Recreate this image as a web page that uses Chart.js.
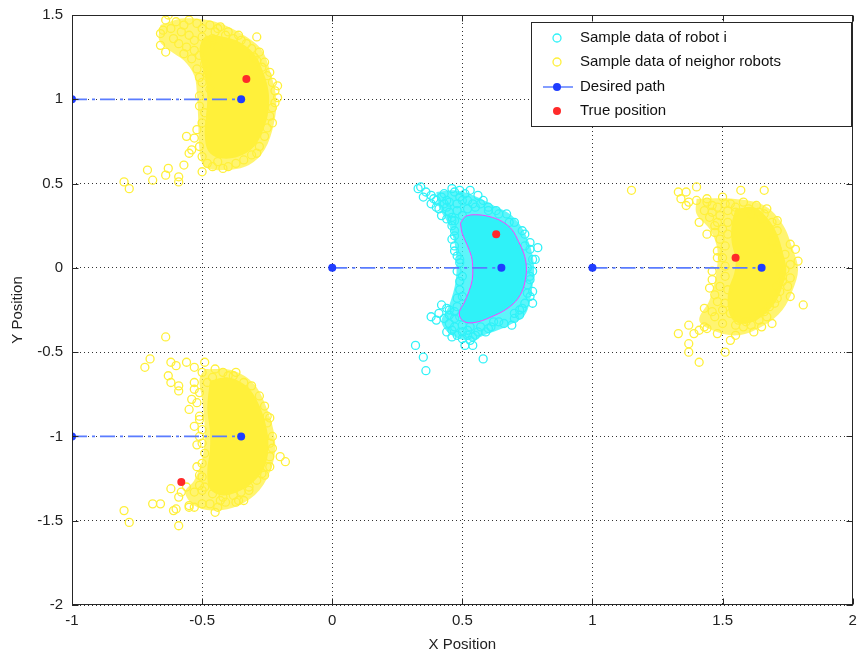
<!DOCTYPE html>
<html lang="en">
  <head>
    <meta charset="UTF-8" />
    <title>Robot Sample Positions</title>
    <script src="https://cdn.jsdelivr.net/npm/chart.js"></script>
    <style>
      body { margin: 0; background: #fff; }
      #chartContainer { width: 858px; height: 659px; position: relative; }
    </style>
  </head>
  <body>
    <div id="chartContainer"><canvas id="chart"></canvas></div>
    <script>
      const xTicks = [-1, -0.5, 0, 0.5, 1, 1.5, 2];
      const yTicks = [-2, -1.5, -1, -0.5, 0, 0.5, 1, 1.5];

      // desired path: start and end of each robot's segment
      const pathStarts = [[-1, 1], [-1, -1], [0, 0], [1, 0]];
      const pathEnds = [[-0.35, 1], [-0.35, -1], [0.65, 0], [1.65, 0]];
      const truePositions = [[-0.33, 1.12], [-0.58, -1.27], [0.63, 0.2], [1.55, 0.06]];

      // robot i samples (only those outside the dense region are listed)
      const robotSamples = [
        [0.33,0.47],[0.35,0.42],[0.34,0.48],[0.38,0.43],[0.39,0.41],[0.41,0.35],[0.43,0.44],[0.45,0.39],
        [0.47,0.45],[0.49,0.42],[0.51,0.44],[0.53,0.46],[0.56,0.43],[0.45,0.33],[0.44,0.29],[0.46,0.25],
        [0.47,0.19],[0.47,0.13],[0.48,0.07],[0.49,0.03],[0.5,-0.05],[0.49,-0.13],[0.5,-0.17],[0.48,-0.23],
        [0.42,-0.22],[0.44,-0.24],[0.38,-0.29],[0.4,-0.31],[0.45,-0.33],[0.44,-0.38],[0.46,-0.41],[0.47,-0.35],
        [0.5,-0.38],[0.53,-0.43],[0.54,-0.46],[0.56,-0.38],[0.59,-0.38],[0.61,-0.35],[0.64,-0.32],[0.69,-0.34],
        [0.7,-0.3],[0.72,-0.28],[0.74,-0.21],[0.77,-0.21],[0.77,-0.14],[0.76,-0.07],[0.77,0.05],[0.76,0.11],
        [0.79,0.12],[0.74,0.2],[0.7,0.27],[0.67,0.32],[0.63,0.34],[0.6,0.36],[0.57,0.38],[0.58,0.4],
        [0.54,0.38],[0.32,-0.46],[0.35,-0.53],[0.36,-0.61],[0.58,-0.54],[0.4,0.36],[0.42,0.31],[0.46,0.28],
        [0.45,-0.25],[0.47,-0.3],[0.52,-0.37],[0.55,-0.4],[0.6,-0.36],[0.66,-0.33],[0.7,-0.27],[0.73,-0.24],
        [0.76,-0.17],[0.75,-0.1],[0.77,-0.02],[0.78,0.05],[0.76,0.15],[0.73,0.22],[0.68,0.27],[0.64,0.32],
        [0.6,0.34],[0.52,0.4],[0.48,0.38],[0.44,0.4],[0.46,0.3],[0.47,0.22],[0.46,0.17],[0.47,0.1],
        [0.49,0.05],[0.48,-0.02],[0.49,-0.08],[0.48,-0.18],[0.47,-0.26],[0.5,-0.34],[0.53,-0.35],[0.57,-0.35],
        [0.62,-0.32],[0.36,0.45],[0.4,0.4],[0.42,0.42],[0.44,0.36],[0.48,0.34],[0.5,0.4],[0.52,0.35],
        [0.55,0.36],[0.38,0.38],[0.43,0.38],[0.49,0.46],[0.46,0.47],[0.5,0.31],[0.47,0.28],[0.41,-0.27],
        [0.43,-0.3],[0.46,-0.37],[0.48,-0.4],[0.5,-0.42],[0.52,-0.4],[0.45,-0.28],[0.49,-0.29],[0.51,-0.46],
        [0.54,-0.41],[0.75,0],[0.76,-0.05],[0.74,0.13],[0.72,-0.25],[0.75,-0.15]
      ];

      // magenta contour round the dense part of robot i's samples
      const robotContour = [
        [0.493,0.265],[0.512,0.305],[0.551,0.315],[0.602,0.305],[0.653,0.275],[0.691,0.226],[0.716,0.156],
        [0.736,0.087],[0.746,0.008],[0.742,-0.071],[0.729,-0.141],[0.704,-0.2],[0.665,-0.249],[0.614,-0.289],
        [0.563,-0.319],[0.518,-0.325],[0.493,-0.299],[0.489,-0.259],[0.506,-0.21],[0.525,-0.141],[0.538,-0.071],
        [0.54,-0.002],[0.535,0.067],[0.518,0.137],[0.499,0.206],[0.493,0.265]
      ];
      // outer edge of the crowded ring band round robot i's samples
      const robotSpread = [
        [0.4,0.45],[0.47,0.46],[0.54,0.43],[0.62,0.37],[0.69,0.31],[0.745,0.19],[0.775,0.02],[0.765,-0.15],
        [0.74,-0.28],[0.68,-0.34],[0.6,-0.39],[0.525,-0.43],[0.46,-0.4],[0.42,-0.32],[0.45,-0.22],[0.475,-0.07],
        [0.475,0.1],[0.45,0.25],[0.41,0.36],[0.4,0.45]
      ];

      // neighbor robot samples, one list per neighbor
      const neighborSamplesTL = [
        [-0.63,1.5],[-0.65,1.41],[-0.66,1.39],[-0.66,1.32],[-0.64,1.28],[-0.29,1.37],[-0.21,1.01],[-0.23,0.86],
        [-0.29,0.68],[-0.56,0.78],[-0.55,0.68],[-0.57,0.61],[-0.63,0.59],[-0.64,0.55],[-0.71,0.58],[-0.69,0.52],
        [-0.8,0.51],[-0.78,0.47],[-0.59,0.54],[-0.59,0.51],[-0.5,0.57],[-0.42,0.59],[-0.51,1.13],[-0.51,0.96],
        [-0.6,1.46],[-0.57,1.44],[-0.55,1.47],[-0.52,1.45],[-0.5,1.42],[-0.47,1.44],[-0.45,1.4],[-0.43,1.43],
        [-0.41,1.38],[-0.38,1.36],[-0.35,1.35],[-0.33,1.33],[-0.31,1.3],[-0.58,1.4],[-0.55,1.38],[-0.53,1.35],
        [-0.5,1.37],[-0.48,1.33],[-0.46,1.36],[-0.44,1.31],[-0.61,1.36],[-0.59,1.33],[-0.56,1.31],[-0.53,1.29],
        [-0.51,1.26],[-0.54,1.24],[-0.57,1.27],[-0.62,1.42],[-0.64,1.47],[-0.49,1.21],[-0.52,1.18],[-0.48,1.15],
        [-0.5,1.1],[-0.47,1.06],[-0.51,1.02],[-0.49,0.92],[-0.5,0.86],[-0.52,0.82],[-0.53,0.77],[-0.51,0.72],
        [-0.54,0.7],[-0.5,0.66],[-0.48,0.62],[-0.46,0.6],[-0.44,0.63],[-0.4,0.6],[-0.37,0.62],[-0.34,0.64],
        [-0.31,0.67],[-0.28,0.72],[-0.26,0.78],[-0.25,0.83],[-0.24,0.9],[-0.23,0.95],[-0.22,1.05],[-0.23,1.1],
        [-0.25,1.14],[-0.27,1.19],[-0.29,1.23],[-0.28,1.28],[-0.3,1.25],[-0.26,1.22],[-0.24,1.16],[-0.21,1.08],
        [-0.22,0.98],[-0.44,1.42],[-0.4,1.4],[-0.36,1.38]
      ];
      const neighborSamplesBL = [
        [-0.64,-0.41],[-0.72,-0.59],[-0.7,-0.54],[-0.62,-0.56],[-0.6,-0.58],[-0.56,-0.56],[-0.53,-0.59],[-0.49,-0.56],
        [-0.63,-0.64],[-0.62,-0.68],[-0.59,-0.7],[-0.59,-0.73],[-0.55,-0.84],[-0.37,-0.62],[-0.34,-0.68],[-0.26,-0.82],
        [-0.24,-0.89],[-0.25,-0.92],[-0.24,-1.04],[-0.2,-1.12],[-0.18,-1.15],[-0.26,-1.23],[-0.24,-1.18],[-0.62,-1.31],
        [-0.59,-1.36],[-0.69,-1.4],[-0.66,-1.4],[-0.61,-1.44],[-0.6,-1.43],[-0.55,-1.42],[-0.55,-1.41],[-0.53,-1.42],
        [-0.5,-1.4],[-0.8,-1.44],[-0.78,-1.51],[-0.59,-1.53],[-0.45,-1.45],[-0.43,-1.38],[-0.41,-1.39],[-0.37,-1.39],
        [-0.36,-1.38],[-0.51,-1.29],[-0.5,-1.32],[-0.52,-1.18],[-0.51,-1.23],[-0.52,-1.05],[-0.51,-1],[-0.53,-0.94],
        [-0.54,-0.78],[-0.53,-0.72],[-0.51,-0.9],[-0.4,-0.64],[-0.46,-0.65],[-0.48,-0.68],[-0.34,-1.38],[-0.32,-1.32],
        [-0.5,-0.62],[-0.45,-0.6],[-0.42,-0.62],[-0.38,-0.64],[-0.31,-0.7],[-0.28,-0.76],[-0.25,-0.88],[-0.23,-1],
        [-0.23,-1.07],[-0.24,-1.12],[-0.25,-1.18],[-0.27,-1.22],[-0.29,-1.26],[-0.32,-1.3],[-0.35,-1.33],[-0.38,-1.35],
        [-0.42,-1.36],[-0.46,-1.34],[-0.49,-1.3],[-0.5,-1.24],[-0.5,-1.16],[-0.49,-1.1],[-0.5,-1.04],[-0.5,-0.96],
        [-0.51,-0.88],[-0.52,-0.8],[-0.51,-0.74],[-0.53,-0.68],[-0.47,-1.4],[-0.44,-1.42],[-0.53,-1.33],[-0.56,-1.3],
        [-0.58,-1.33]
      ];
      const neighborSamplesR = [
        [1.15,0.46],[1.33,0.45],[1.36,0.45],[1.4,0.48],[1.34,0.41],[1.37,0.39],[1.36,0.37],[1.4,0.4],
        [1.44,0.41],[1.44,0.39],[1.43,0.34],[1.46,0.33],[1.41,0.27],[1.44,0.2],[1.47,0.21],[1.48,0.27],
        [1.48,0.36],[1.51,0.38],[1.5,0.42],[1.57,0.46],[1.66,0.46],[1.58,0.39],[1.48,0.1],[1.48,0.06],
        [1.46,-0.02],[1.46,-0.07],[1.45,-0.12],[1.47,-0.16],[1.49,-0.11],[1.43,-0.24],[1.46,-0.26],[1.47,-0.29],
        [1.5,-0.33],[1.48,-0.39],[1.37,-0.34],[1.39,-0.39],[1.41,-0.37],[1.43,-0.35],[1.44,-0.36],[1.33,-0.39],
        [1.37,-0.45],[1.37,-0.5],[1.41,-0.56],[1.51,-0.5],[1.53,-0.43],[1.55,-0.4],[1.62,-0.38],[1.64,-0.31],
        [1.69,-0.33],[1.7,-0.21],[1.71,-0.18],[1.76,-0.17],[1.81,-0.22],[1.76,-0.06],[1.74,-0.01],[1.76,0.02],
        [1.79,0.04],[1.78,0.11],[1.76,0.14],[1.71,0.11],[1.74,0.08],[1.69,0.16],[1.71,0.22],[1.71,0.28],
        [1.69,0.27],[1.66,0.32],[1.65,0.29],[1.61,0.32],[1.64,0.33],[1.55,0.33],[1.52,0.34],[1.52,0.27],
        [1.52,0.2],[1.51,0.13],[1.5,0.06],[1.51,0.01],[1.51,-0.05],[1.52,-0.13],[1.51,-0.21],[1.53,-0.27],
        [1.56,-0.31],[1.59,-0.32],[1.62,-0.29],[1.66,-0.26],[1.68,-0.23],[1.71,-0.11],[1.73,-0.05],[1.45,0.3],
        [1.47,0.25],[1.49,0.31],[1.5,0.23],[1.46,0.37],[1.49,0.17],[1.53,0.38],[1.55,0.36],[1.6,0.35],
        [1.63,0.37],[1.67,0.35],[1.48,-0.2],[1.5,-0.25],[1.55,-0.34],[1.58,-0.35],[1.61,-0.34],[1.65,-0.35],
        [1.67,-0.29],[1.72,-0.14],[1.73,-0.08],[1.75,-0.11]
      ];

      // where neighbor samples overlap into a solid patch
      const neighborCoreTL = [
        [-0.45,1.38],[-0.37,1.35],[-0.3,1.27],[-0.265,1.16],[-0.245,1.05],[-0.245,0.93],[-0.265,0.82],[-0.3,0.72],
        [-0.36,0.66],[-0.43,0.65],[-0.475,0.69],[-0.49,0.79],[-0.485,0.9],[-0.48,1],[-0.485,1.1],[-0.5,1.2],
        [-0.51,1.3],[-0.49,1.37],[-0.45,1.38]
      ];
      const neighborCoreBL = [
        [-0.47,-0.67],[-0.4,-0.65],[-0.33,-0.7],[-0.285,-0.8],[-0.255,-0.93],[-0.245,-1.05],[-0.255,-1.16],[-0.29,-1.25],
        [-0.35,-1.32],[-0.42,-1.35],[-0.47,-1.31],[-0.48,-1.2],[-0.47,-1.08],[-0.47,-0.97],[-0.48,-0.83],[-0.47,-0.67]
      ];
      const neighborCoreR = [
        [1.55,0.35],[1.62,0.36],[1.67,0.3],[1.71,0.2],[1.73,0.1],[1.745,-0.01],[1.73,-0.11],[1.7,-0.21],
        [1.65,-0.29],[1.59,-0.33],[1.54,-0.31],[1.52,-0.22],[1.525,-0.12],[1.545,-0.03],[1.55,0.05],[1.535,0.15],
        [1.535,0.26],[1.55,0.35]
      ];
      // outer edge of the crowded ring band round each neighbor
      const neighborSpreadTL = [
        [-0.66,1.44],[-0.57,1.48],[-0.45,1.46],[-0.34,1.38],[-0.27,1.29],[-0.235,1.145],[-0.215,1],[-0.225,0.85],
        [-0.26,0.7],[-0.32,0.61],[-0.41,0.58],[-0.49,0.6],[-0.51,0.7],[-0.515,0.88],[-0.52,1.03],[-0.53,1.14],
        [-0.57,1.23],[-0.625,1.29],[-0.665,1.35],[-0.66,1.44]
      ];
      const neighborSpreadBL = [
        [-0.49,-0.6],[-0.38,-0.61],[-0.3,-0.69],[-0.25,-0.84],[-0.22,-1.02],[-0.23,-1.17],[-0.28,-1.32],[-0.36,-1.41],
        [-0.45,-1.44],[-0.53,-1.41],[-0.565,-1.33],[-0.53,-1.26],[-0.5,-1.14],[-0.49,-0.96],[-0.5,-0.78],[-0.51,-0.66],
        [-0.49,-0.6]
      ];
      const neighborSpreadR = [
        [1.4,0.41],[1.54,0.41],[1.66,0.37],[1.73,0.26],[1.77,0.11],[1.79,-0.01],[1.77,-0.13],[1.73,-0.25],
        [1.66,-0.34],[1.56,-0.4],[1.46,-0.37],[1.41,-0.31],[1.45,-0.19],[1.475,-0.04],[1.48,0.11],[1.45,0.23],
        [1.4,0.32],[1.4,0.41]
      ];

      const CYAN = "#2ff2f8";
      const YELLOW = "#fff03a";
      const BLUE = "#1f3dff";
      const RED = "#ff2a2a";

      const toXY = (pts) => pts.map(([x, y]) => ({ x, y }));
      const gap = { x: null, y: null };
      const pathData = pathStarts.flatMap((p, i) => [{ x: p[0], y: p[1] }, { x: pathEnds[i][0], y: pathEnds[i][1] }, gap]);

      const ring = (color) => ({
        pointStyle: "circle",
        pointRadius: 4,
        pointBorderWidth: 1.3,
        pointBackgroundColor: "rgba(0,0,0,0)",
        pointBorderColor: color,
      });
      // filled patch for a crowded region of samples
      const patch = (pts, color, order) => ({
        data: toXY(pts),
        showLine: true,
        fill: "shape",
        tension: 0.35,
        backgroundColor: color,
        borderColor: "rgba(0,0,0,0)",
        borderWidth: 0,
        pointRadius: 0,
        order,
      });

      // axes box with inward ticks, drawn over the data like MATLAB's "box on"
      const axesBox = {
        id: "axesBox",
        afterDatasetsDraw(chart) {
          const { ctx, chartArea: a, scales } = chart;
          const L = Math.round(a.left) + 0.5, R = Math.round(a.right) - 0.5;
          const T = Math.round(a.top) + 0.5, B = Math.round(a.bottom) - 0.5;
          ctx.save();
          ctx.strokeStyle = "#262626";
          ctx.lineWidth = 1;
          ctx.strokeRect(L, T, R - L, B - T);
          ctx.beginPath();
          xTicks.forEach((v) => {
            const px = Math.round(scales.x.getPixelForValue(v)) + 0.5;
            ctx.moveTo(px, B); ctx.lineTo(px, B - 6);
            ctx.moveTo(px, T); ctx.lineTo(px, T + 6);
          });
          yTicks.forEach((v) => {
            const py = Math.round(scales.y.getPixelForValue(v)) + 0.5;
            ctx.moveTo(L, py); ctx.lineTo(L + 6, py);
            ctx.moveTo(R, py); ctx.lineTo(R - 6, py);
          });
          ctx.stroke();
          ctx.restore();
        },
        afterDraw(chart) {
          const ctx = chart.ctx;
          const items = chart.data.datasets.filter((d) => d.label);
          const box = { x: 531.5, y: 22.5, w: 320, h: 104 };
          const rows = [38, 62, 87, 111];
          ctx.save();
          ctx.fillStyle = "#fff";
          ctx.fillRect(box.x, box.y, box.w, box.h);
          ctx.strokeStyle = "#262626";
          ctx.lineWidth = 1;
          ctx.strokeRect(box.x, box.y, box.w, box.h);
          ctx.font = '15px "Liberation Sans", Arial, sans-serif';
          ctx.textBaseline = "middle";
          items.forEach((d, i) => {
            const y = rows[i];
            if (d.showLine) {
              ctx.strokeStyle = d.borderColor;
              ctx.lineWidth = 1.5;
              ctx.beginPath();
              ctx.moveTo(543, y); ctx.lineTo(573, y);
              ctx.stroke();
            }
            ctx.beginPath();
            ctx.arc(557, y, d.pointRadius, 0, Math.PI * 2);
            if (d.pointBackgroundColor === "rgba(0,0,0,0)") {
              ctx.strokeStyle = d.pointBorderColor;
              ctx.lineWidth = d.pointBorderWidth;
              ctx.stroke();
            } else {
              ctx.fillStyle = d.pointBackgroundColor;
              ctx.fill();
            }
            ctx.fillStyle = "#111";
            ctx.fillText(d.label, 580, y);
          });
          ctx.restore();
        },
      };

      Chart.defaults.font.family = '"Liberation Sans", Arial, sans-serif';
      Chart.defaults.font.size = 15;
      Chart.defaults.color = "#222";

      const gridOpts = { color: "rgba(0,0,0,0.8)", lineWidth: 1, drawTicks: false };
      const borderOpts = { display: false, dash: [1, 3] };
      const yellowSoft = "rgba(255,240,58,0.72)";
      const cyanSoft = "rgba(47,242,248,0.78)";

      new Chart(document.getElementById("chart"), {
        type: "scatter",
        data: {
          datasets: [
            { label: "Sample data of robot i", data: toXY(robotSamples), ...ring(CYAN), order: 3 },
            {
              label: "Sample data of neighor robots",
              data: toXY([...neighborSamplesTL, ...neighborSamplesBL, ...neighborSamplesR]),
              ...ring(YELLOW),
              order: 5,
            },
            {
              label: "Desired path",
              data: pathData,
              showLine: true,
              borderColor: "#5a7cff",
              borderWidth: 1.8,
              borderDash: [15, 5, 3, 5],
              pointStyle: "circle",
              pointRadius: 4,
              pointBackgroundColor: BLUE,
              pointBorderColor: BLUE,
              pointBorderWidth: 0,
              order: 1,
            },
            {
              label: "True position",
              data: toXY(truePositions),
              pointStyle: "circle",
              pointRadius: 4,
              pointBackgroundColor: RED,
              pointBorderColor: RED,
              pointBorderWidth: 0,
              order: 0,
            },
            {
              data: toXY(robotContour),
              showLine: true,
              fill: "shape",
              tension: 0.35,
              backgroundColor: CYAN,
              borderColor: "#ff3cff",
              borderWidth: 1,
              pointRadius: 0,
              order: 2,
            },
            patch(robotSpread, cyanSoft, 4),
            patch(neighborCoreTL, YELLOW, 6),
            patch(neighborCoreBL, YELLOW, 6),
            patch(neighborCoreR, YELLOW, 6),
            patch(neighborSpreadTL, yellowSoft, 7),
            patch(neighborSpreadBL, yellowSoft, 7),
            patch(neighborSpreadR, yellowSoft, 7),
          ],
        },
        options: {
          responsive: true,
          maintainAspectRatio: false,
          animation: false,
          events: [],
          layout: { padding: { top: 15, right: 3, bottom: 0, left: 0 } },
          plugins: { legend: { display: false }, tooltip: { enabled: false } },
          scales: {
            x: {
              type: "linear",
              min: -1,
              max: 2,
              afterBuildTicks: (s) => { s.ticks = xTicks.map((v) => ({ value: v })); },
              afterFit: (s) => { s.height = 54; s.paddingLeft = 0; s.paddingRight = 0; },
              ticks: { callback: (v) => String(v), padding: 7, maxRotation: 0, autoSkip: false },
              grid: gridOpts,
              border: borderOpts,
              title: { display: true, text: "X Position", padding: { top: 0, bottom: 5 } },
            },
            y: {
              type: "linear",
              min: -2,
              max: 1.5,
              afterBuildTicks: (s) => { s.ticks = yTicks.map((v) => ({ value: v })); },
              afterFit: (s) => { s.width = 72; s.paddingTop = 0; s.paddingBottom = 0; },
              ticks: { callback: (v) => String(v), padding: 9, autoSkip: false },
              grid: gridOpts,
              border: borderOpts,
              title: { display: true, text: "Y Position", padding: { top: 9, bottom: 0 } },
            },
          },
        },
        plugins: [axesBox],
      });
    </script>
  </body>
</html>
